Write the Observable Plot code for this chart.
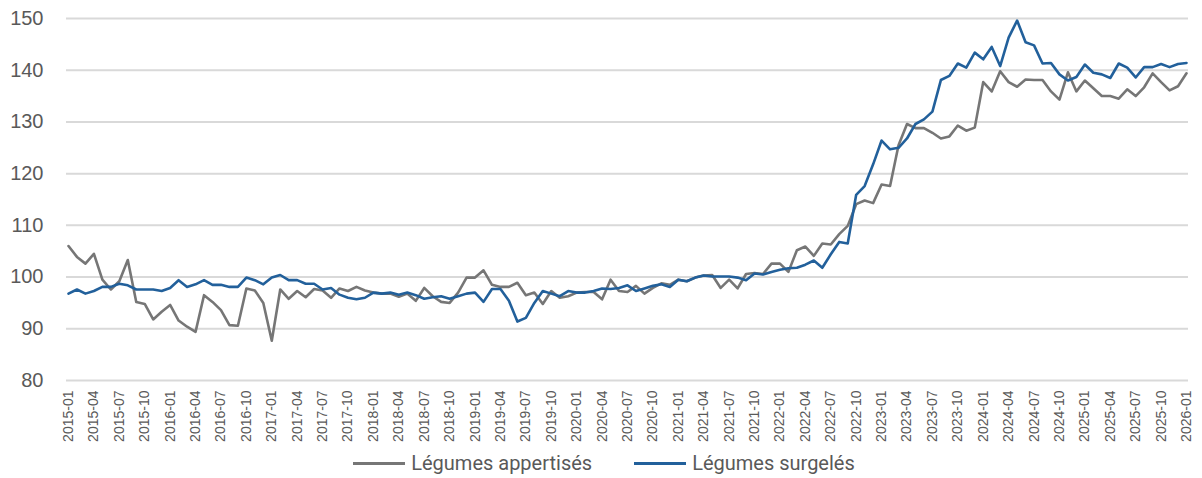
<!DOCTYPE html>
<html>
<head>
<meta charset="utf-8">
<script src="https://cdn.jsdelivr.net/npm/d3@7"></script>
<script src="https://cdn.jsdelivr.net/npm/@observablehq/plot@0.6"></script>
<style>
  html, body { margin: 0; padding: 0; background: #fff; }
  #chart svg { display: block; }
  .legend { display: flex; justify-content: center; align-items: center; height: 30px; margin-top: 0px; padding-left: 6px;
    font-family: "Roboto", sans-serif; font-size: 20px; color: #595959; }
  .item { display: flex; align-items: center; }
  .sw { width: 52px; height: 3px; margin-right: 6px; }
  .gap { width: 42px; }
</style>
</head>
<body>
<div id="chart"></div>
<div class="legend">
  <div class="item"><div class="sw" style="background:#767676"></div><span id="l1"></span></div>
  <div class="gap"></div>
  <div class="item"><div class="sw" style="background:#22609b"></div><span id="l2"></span></div>
</div>
<script>
const seriesNames = ["Légumes appertisés", "Légumes surgelés"];
const appertises = [
106.0,103.9,102.6,104.5,99.5,97.6,99.2,103.3,95.2,94.8,91.8,93.3,
94.6,91.6,90.4,89.4,96.5,95.2,93.6,90.7,90.6,97.8,97.4,95.0,
87.7,97.6,95.8,97.3,96.1,97.7,97.4,96.0,97.8,97.3,98.1,97.4,
97.0,96.8,96.8,96.2,96.8,95.4,97.9,96.3,95.2,95.0,97.0,99.9,
99.9,101.3,98.5,98.1,98.1,98.9,96.5,97.0,94.8,97.3,96.0,96.3,
97.0,97.1,97.1,95.7,99.5,97.3,97.1,98.3,96.8,97.9,98.8,98.5,
99.5,99.2,99.9,100.3,100.4,97.9,99.5,97.8,100.6,100.8,100.6,102.6,
102.6,101.0,105.2,105.9,104.1,106.5,106.3,108.3,109.9,114.1,114.8,114.3,
117.9,117.6,125.5,129.6,128.8,128.8,127.9,126.8,127.2,129.3,128.3,128.9,
137.7,135.9,139.8,137.7,136.8,138.2,138.1,138.1,135.9,134.3,139.6,135.9,
138.0,136.5,135.0,135.0,134.5,136.3,135.0,136.7,139.4,137.7,136.1,136.9,
139.4];
const surgeles = [
96.8,97.6,96.8,97.3,98.1,98.1,98.7,98.4,97.6,97.6,97.6,97.3,
97.9,99.4,98.1,98.6,99.4,98.5,98.5,98.1,98.1,99.9,99.4,98.6,
99.9,100.4,99.4,99.4,98.7,98.7,97.6,97.9,96.6,96.0,95.7,96.0,
97.0,96.8,97.0,96.6,97.0,96.5,95.8,96.1,96.3,95.8,96.3,96.8,
97.0,95.2,97.7,97.7,95.4,91.4,92.1,95.0,97.3,96.8,96.3,97.3,
97.0,97.0,97.3,97.8,97.7,97.9,98.4,97.3,97.8,98.3,98.6,98.1,
99.5,99.2,99.9,100.3,100.1,100.1,100.1,99.9,99.4,100.7,100.5,101.0,
101.4,101.7,101.8,102.4,103.2,101.8,104.4,106.8,106.5,115.9,117.6,121.8,
126.4,124.7,125.0,126.8,129.6,130.5,132.0,138.1,138.9,141.3,140.5,143.4,
142.1,144.5,140.8,146.3,149.6,145.4,144.8,141.3,141.4,139.2,138.0,138.7,
141.1,139.5,139.2,138.5,141.3,140.5,138.6,140.6,140.6,141.2,140.6,141.2,
141.4];
const yTicks = [80, 90, 100, 110, 120, 130, 140, 150];
const colors = ["#767676", "#22609b"];

const months = [];
for (let y = 2015; y <= 2026; y++) for (let m = 1; m <= 12; m++) {
  if (months.length < appertises.length) months.push(`${y}-${String(m).padStart(2, "0")}`);
}
const xTicks = months.filter((d, i) => i % 3 === 0);

const rows = [];
months.forEach((m, i) => {
  rows.push({month: m, value: appertises[i], serie: seriesNames[0]});
  rows.push({month: m, value: surgeles[i], serie: seriesNames[1]});
});

const chart = Plot.plot({
  width: 1202,
  height: 448,
  marginTop: 18,
  marginBottom: 68,
  marginLeft: 68,
  marginRight: 16,
  style: {fontFamily: "Liberation Sans, Arial, sans-serif", color: "#595959", background: "#fff"},
  x: {type: "point", domain: months, padding: 0, label: null},
  y: {domain: [80, 150], label: null},
  color: {domain: seriesNames, range: colors},
  marks: [
    Plot.ruleY(yTicks, {stroke: "#d9d9d9", strokeWidth: 2, insetLeft: -2, insetRight: -2}),
    Plot.axisY({ticks: yTicks, tickSize: 0, tickPadding: 25, fontSize: 20, tickFormat: d => String(d), label: null}),
    Plot.axisX({ticks: xTicks, tickSize: 0, tickPadding: 10, tickRotate: -90, fontSize: 14, label: null}),
    Plot.line(rows, {x: "month", y: "value", z: "serie", stroke: "serie", strokeWidth: 2.6, strokeLinejoin: "round"})
  ]
});
document.getElementById("chart").appendChild(chart);
document.getElementById("l1").textContent = seriesNames[0];
document.getElementById("l2").textContent = seriesNames[1];
</script>
</body>
</html>
